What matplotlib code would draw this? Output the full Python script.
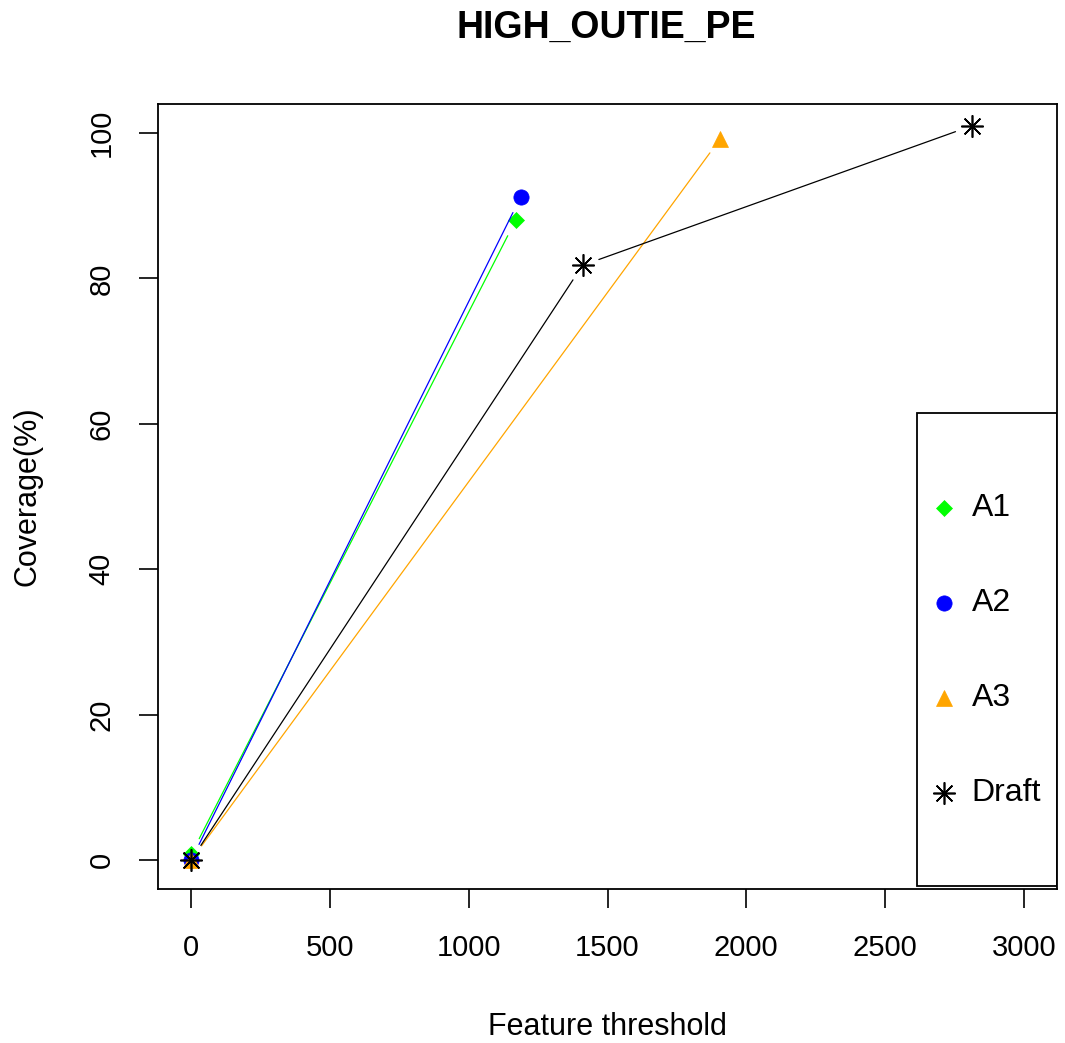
import matplotlib
matplotlib.use("Agg")
import matplotlib.pyplot as plt
from matplotlib.patches import Rectangle

plt.rcParams['font.family'] = ['Liberation Sans', 'DejaVu Sans']

# datos
a1_x = [0, 1169]
a1_y = [0.8, 88.0]
a2_x = [0, 1187]
a2_y = [0, 91.2]
a3_x = [0, 1906]
a3_y = [0, 99.2]
draft_x = [0, 1410, 2813]
draft_y = [0, 81.8, 101.0]

x_ticks = [0, 500, 1000, 1500, 2000, 2500, 3000]
y_ticks = [0, 20, 40, 60, 80, 100]
series_names = ["A1", "A2", "A3", "Draft"]

ASTERISK = (8, 2, 0)


def draw_series(ax, xs, ys, color, marker, ms, gap=12.5):
    # lineas tipo "b" de R: segmentos con hueco alrededor de los puntos
    for i in range(len(xs) - 1):
        ax.annotate("", xy=(xs[i + 1], ys[i + 1]), xytext=(xs[i], ys[i]),
                    arrowprops=dict(arrowstyle="-", color=color, lw=0.9,
                                    shrinkA=gap, shrinkB=gap))
    ax.plot(xs, ys, linestyle="none", marker=marker, color=color,
            markersize=ms, markeredgewidth=1.2 if marker == ASTERISK else 0.5)


def main():
    fig = plt.figure(figsize=(10.65, 10.43), dpi=100)
    ax = fig.add_axes([158 / 1065, 1 - 889 / 1043, 899 / 1065, 785 / 1043])

    colors = ["#00FF00", "#0000FF", "#FFA500", "black"]
    markers = ["D", "o", "^", ASTERISK]
    sizes = [8.5, 11, 12, 16]

    draw_series(ax, a1_x, a1_y, colors[0], markers[0], sizes[0])
    draw_series(ax, a2_x, a2_y, colors[1], markers[1], sizes[1])
    draw_series(ax, a3_x, a3_y, colors[2], markers[2], sizes[2])
    draw_series(ax, draft_x, draft_y, colors[3], markers[3], sizes[3])

    ax.set_xlim(-120, 3120)
    ax.set_ylim(-4, 104)
    ax.set_xticks(x_ticks)
    ax.set_yticks(y_ticks)
    ax.tick_params(direction="out", length=13.5, width=1.2, labelsize=21)
    ax.tick_params(axis="x", pad=19)
    ax.tick_params(axis="y", pad=17)
    for lab in ax.get_yticklabels():
        lab.set_rotation(90)
        lab.set_va("center")
    for sp in ax.spines.values():
        sp.set_linewidth(1.3)

    ax.set_xlabel("Feature threshold", fontsize=22)
    ax.set_ylabel("Coverage(%)", fontsize=22)
    ax.xaxis.set_label_coords(0.5, -0.157)
    ax.yaxis.set_label_coords(-0.128, 0.5)
    fig.text(0.569, 0.973, "HIGH_OUTIE_PE", fontsize=27, fontweight="bold",
             ha="center", va="center")

    # leyenda al estilo R
    ax.add_patch(Rectangle((0.844, 0.004), 0.156, 0.603, transform=ax.transAxes,
                           fill=False, edgecolor="black", lw=1.3, zorder=5))
    for i, name in enumerate(series_names):
        yy = 0.485 - i * 0.121
        ax.plot([0.874], [yy], transform=ax.transAxes, linestyle="none",
                marker=markers[i], color=colors[i], markersize=sizes[i],
                markeredgewidth=1.2 if markers[i] == ASTERISK else 0.5,
                clip_on=False, zorder=6)
        ax.text(0.905, yy, name, transform=ax.transAxes, fontsize=23,
                va="center", ha="left", zorder=6)

    fig.savefig("out.png", dpi=100)


if __name__ == "__main__":
    main()
